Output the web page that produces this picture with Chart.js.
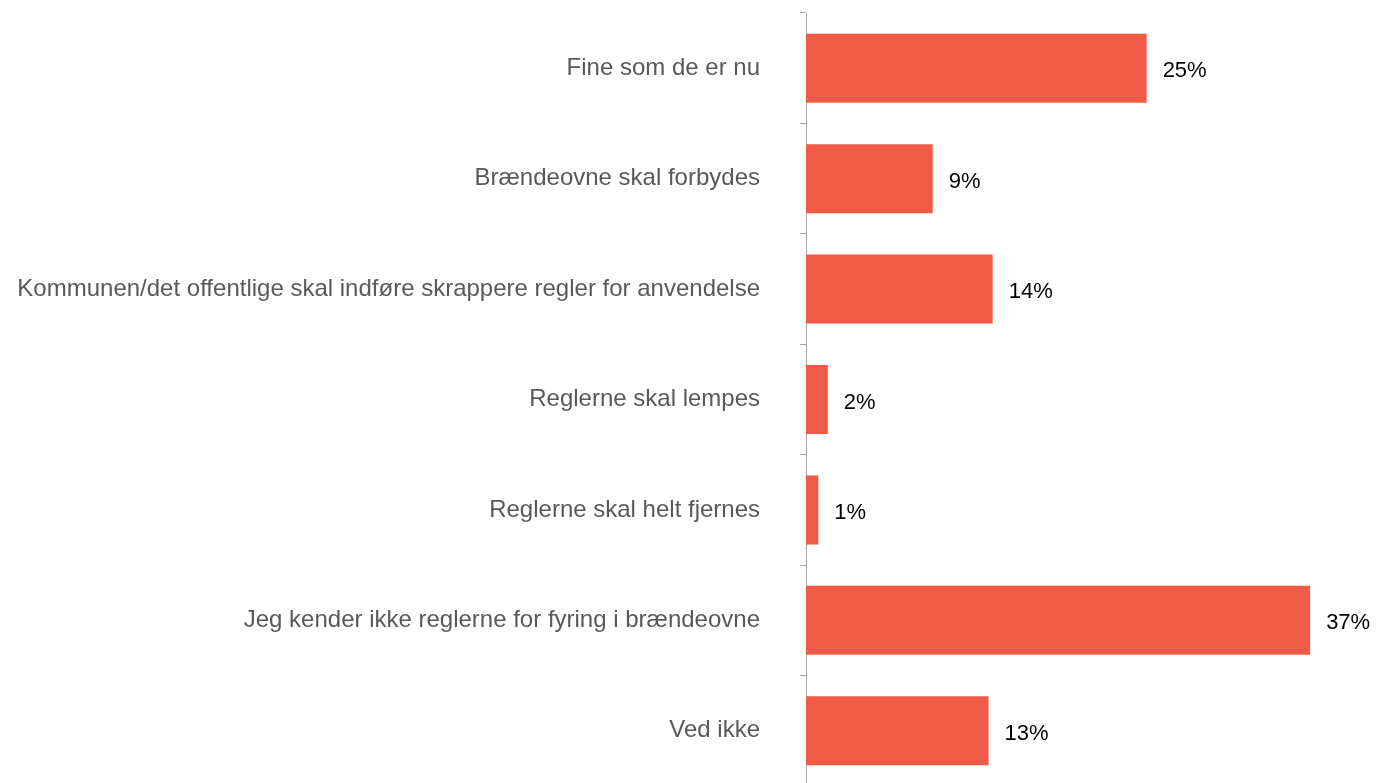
<!DOCTYPE html>
<html>
<head>
<meta charset="utf-8">
<script src="https://cdn.jsdelivr.net/npm/chart.js@4/dist/chart.umd.min.js"></script>
<style>
  html, body { margin: 0; padding: 0; background: #fff; overflow: hidden; }
  #wrap { width: 1379px; height: 800px; }
</style>
</head>
<body>
<div id="wrap"><canvas id="chart" width="1379" height="800"></canvas></div>
<script>
let categories = [
    'Fine som de er nu',
    'Brændeovne skal forbydes',
    'Kommunen/det offentlige skal indføre skrappere regler for anvendelse',
    'Reglerne skal lempes',
    'Reglerne skal helt fjernes',
    'Jeg kender ikke reglerne for fyring i brændeovne',
    'Ved ikke'
];
let shares = [25.0, 9.3, 13.7, 1.6, 0.9, 37.0, 13.4];
let shareLabels = shares.map(v => Math.round(v) + '%');

let barColor = '#EF5B47';

// draws the % text right of each bar
let valueLabels = {
    id: 'valueLabels',
    afterDatasetsDraw(chart) {
        let ctx = chart.ctx;
        let meta = chart.getDatasetMeta(0);
        ctx.save();
        ctx.font = '22px "Liberation Sans", Arial, sans-serif';
        ctx.fillStyle = '#000';
        ctx.textAlign = 'left';
        ctx.textBaseline = 'middle';
        meta.data.forEach((bar, i) => {
            ctx.fillText(shareLabels[i], bar.x + 16, bar.y + 3);
        });
        ctx.restore();
    }
};

var ctx = document.getElementById('chart').getContext('2d');
var chartObject = new Chart(ctx, {
    type: 'bar',
    data: {
        labels: categories,
        datasets: [{
            data: shares,
            backgroundColor: barColor,
            barPercentage: 0.625,
            categoryPercentage: 1
        }]
    },
    options: {
        indexAxis: 'y',
        responsive: false,
        animation: false,
        layout: { padding: { top: 13, bottom: 14, left: 0, right: 28 } },
        plugins: { legend: { display: false }, tooltip: { enabled: false } },
        scales: {
            x: { display: false, min: 0, max: 40 },
            y: {
                afterFit(scale) {
                    scale.width = 806;
                    scale.paddingTop = 0;
                    scale.paddingBottom = 0;
                },
                border: { color: '#a6a6a6', width: 1 },
                grid: {
                    offset: true,
                    drawOnChartArea: false,
                    drawTicks: true,
                    tickLength: 6,
                    color: '#a6a6a6'
                },
                ticks: {
                    padding: 40,
                    color: '#595959',
                    font: { family: '"Liberation Sans", Arial, sans-serif', size: 24 }
                }
            }
        }
    },
    plugins: [valueLabels]
});
</script>
</body>
</html>
